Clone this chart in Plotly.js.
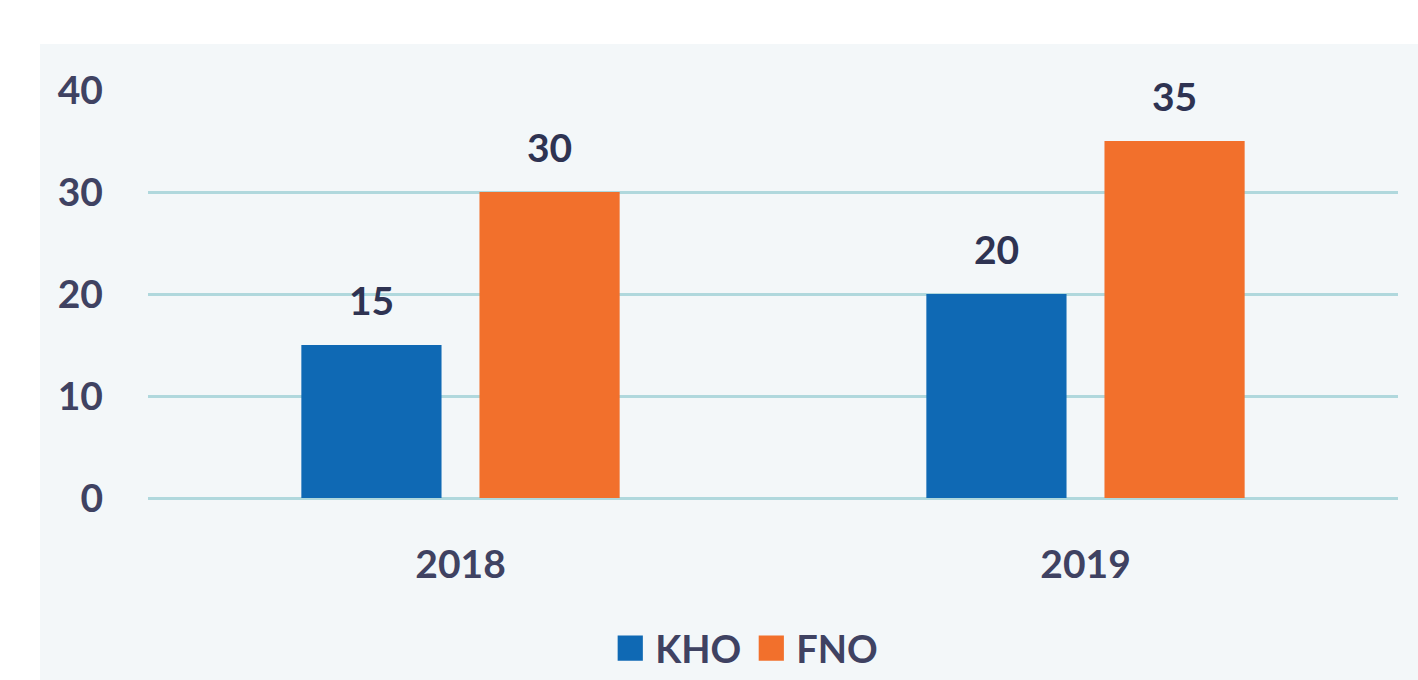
<!DOCTYPE html>
<html>
<head>
<meta charset="utf-8">
<script src="https://cdn.plot.ly/plotly-3.0.1.min.js"></script>
<style>
  html, body { margin: 0; padding: 0; background: #ffffff; }
  #chart { width: 1418px; height: 680px; }
</style>
</head>
<body>
<div id="chart"></div>
<script>
// chart values
const years = ['2018', '2019'];
const khoValues = [15, 20];
const fnoValues = [30, 35];
const seriesNames = ['KHO', 'FNO'];
const yTicks = [0, 10, 20, 30, 40];

const blue = '#0F69B4';
const orange = '#F2702C';
const textColor = '#3F4262';
const fontFamily = 'Lato, "Open Sans", sans-serif';

const kho = {
    x: years,
    y: khoValues,
    type: 'bar',
    name: seriesNames[0],
    marker: {color: blue},
    hoverinfo: 'skip'
};

const fno = {
    x: years,
    y: fnoValues,
    type: 'bar',
    name: seriesNames[1],
    marker: {color: orange},
    hoverinfo: 'skip'
};

// value labels above bars; category index used as x so '2018' isn't read as a number
const labelFor = (vals, shift) => vals.map((v, i) => ({
    x: i,
    y: v,
    xref: 'x',
    yref: 'y',
    text: String(v),
    showarrow: false,
    xshift: shift,
    yanchor: 'bottom',
    yshift: 20,
    font: {family: fontFamily, size: 39, color: '#2E3352', weight: 700}
}));

const layout = {
    width: 1418,
    height: 680,
    margin: {l: 148, r: 20, t: 90, b: 182},
    paper_bgcolor: '#ffffff',
    plot_bgcolor: 'rgba(0,0,0,0)',
    barmode: 'group',
    bargap: 0.43,
    bargroupgap: 0.213,
    font: {family: fontFamily, color: textColor, weight: 700},
    showlegend: true,
    legend: {
        orientation: 'h',
        x: 0.477,
        xanchor: 'center',
        yref: 'container',
        y: 0.0,
        yanchor: 'bottom',
        itemwidth: 40,
        font: {size: 38, color: textColor, weight: 700},
        itemclick: false,
        bgcolor: 'rgba(0,0,0,0)'
    },
    xaxis: {
        type: 'category',
        range: [-0.5, 1.5],
        showgrid: false,
        showline: false,
        ticks: '',
        ticklabelstandoff: 40,
        tickfont: {size: 39, color: textColor, weight: 700}
    },
    yaxis: {
        range: [0, 40],
        tickvals: yTicks,
        showgrid: true,
        gridcolor: '#B0D8DD',
        gridwidth: 3,
        zeroline: true,
        zerolinecolor: '#B0D8DD',
        zerolinewidth: 3,
        showline: false,
        ticks: '',
        ticklabelstandoff: 44,
        tickfont: {size: 39, color: textColor, weight: 700}
    },
    shapes: [{
        type: 'rect',
        xref: 'paper',
        yref: 'paper',
        x0: -0.0864,
        x1: 1.02,
        y0: -0.45,
        y1: 1.113,
        line: {width: 0},
        fillcolor: '#F3F7F9',
        layer: 'below'
    }],
    annotations: [...labelFor(khoValues, -89), ...labelFor(fnoValues, 89)]
};

const chart = document.getElementById('chart');
Plotly.newPlot(chart, [kho, fno], layout, {displayModeBar: false, staticPlot: true}).then(() => {
    // enlarge the legend squares to match the reference
    chart.querySelectorAll('.legendpoints path').forEach(p => {
        const t = p.getAttribute('transform') || '';
        p.setAttribute('transform', t + ' scale(2.1)');
    });
});
</script>
</body>
</html>
